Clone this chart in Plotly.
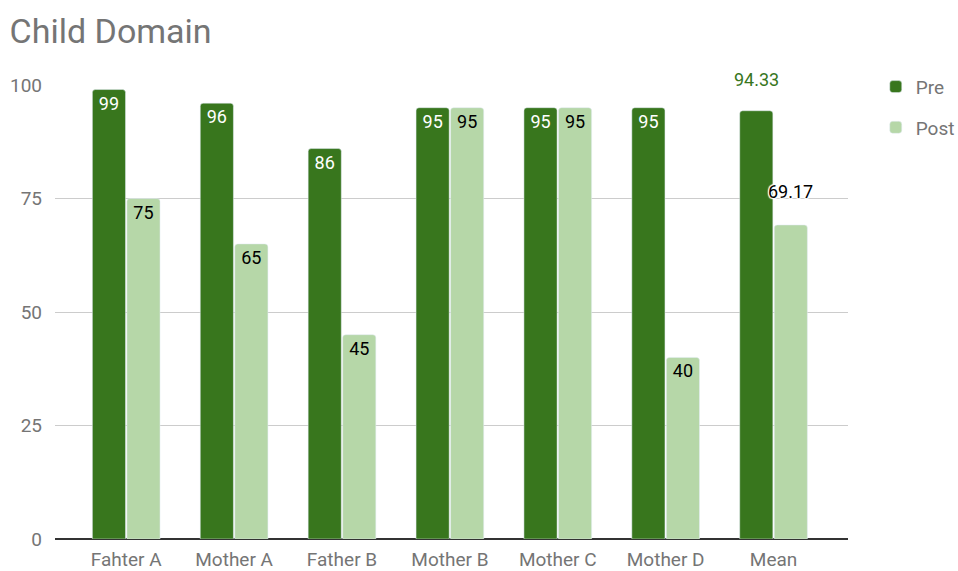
import plotly.graph_objects as go

categories = ["Fahter A", "Mother A", "Father B", "Mother B", "Mother C", "Mother D", "Mean"]
pre_values = [99, 96, 86, 95, 95, 95, 94.33]
post_values = [75, 65, 45, 95, 95, 40, 69.17]
y_ticks = [0, 25, 50, 75, 100]

PRE_COLOR = "#38761d"
POST_COLOR = "#b6d7a8"
GRAY = "#757575"
FONT = "Roboto"
LBL = 18
HALO = "1px 1px 1px white, -1px -1px 1px white, 1px -1px 1px white, -1px 1px 1px white, 0 0 2px white"

def fmt(v):
    return f"{v:g}" if float(v).is_integer() else f"{v:.2f}"

pre_text = [fmt(v) for v in pre_values[:-1]] + [""]
post_text = [fmt(v) for v in post_values[:-1]] + [""]

fig = go.Figure()
fig.add_trace(go.Bar(
    name="Pre", x=categories, y=pre_values, marker_color=PRE_COLOR,
    text=pre_text, textposition="inside", insidetextanchor="end",
    textfont=dict(color="white", size=LBL, family=FONT), textangle=0,
    constraintext="none", cliponaxis=False, legendgroup="a",
))
fig.add_trace(go.Bar(
    name="Post", x=categories, y=post_values, marker_color=POST_COLOR,
    text=post_text, textposition="inside", insidetextanchor="end",
    textfont=dict(color="black", size=LBL, family=FONT), textangle=0,
    constraintext="none", cliponaxis=False, legendgroup="b",
))

fig.add_annotation(
    x=categories[-1], xref="x", y=1, yref="paper", yanchor="bottom",
    xshift=-17, yshift=-7, text=fmt(pre_values[-1]), showarrow=False,
    font=dict(color=PRE_COLOR, size=LBL, family=FONT),
)
fig.add_annotation(
    x=categories[-1], xref="x", y=post_values[-1], yref="y", yanchor="bottom",
    xshift=17, yshift=21, text=fmt(post_values[-1]), showarrow=False,
    font=dict(color="black", size=LBL, family=FONT, shadow=HALO),
)

fig.update_layout(
    width=958, height=571,
    paper_bgcolor="white", plot_bgcolor="white",
    margin=dict(l=55, r=110, t=85, b=32, autoexpand=False),
    title=dict(text="Child Domain", x=0.01, xanchor="left", y=0.945, yanchor="middle",
               font=dict(size=34, color=GRAY, family=FONT)),
    barmode="group", bargap=0.36, bargroupgap=0.04, barcornerradius=3,
    font=dict(family=FONT, color=GRAY),
    showlegend=True,
    legend=dict(x=1.035, y=1.038, xanchor="left", yanchor="top",
                font=dict(size=19, color=GRAY), tracegroupgap=13,
                itemwidth=30),
    xaxis=dict(range=[-0.66, 6.69], showgrid=False, showline=False, automargin=False,
               tickfont=dict(size=19, color=GRAY), ticks="", ticklabelstandoff=7),
    yaxis=dict(range=[0, 100], tickvals=y_ticks, showgrid=True, gridcolor="#cccccc",
               gridwidth=1, zeroline=True, zerolinecolor="#333333", zerolinewidth=1.5,
               automargin=False,
               tickfont=dict(size=19, color=GRAY), ticks="", ticklabelstandoff=12),
)

fig.write_html("out.html")
